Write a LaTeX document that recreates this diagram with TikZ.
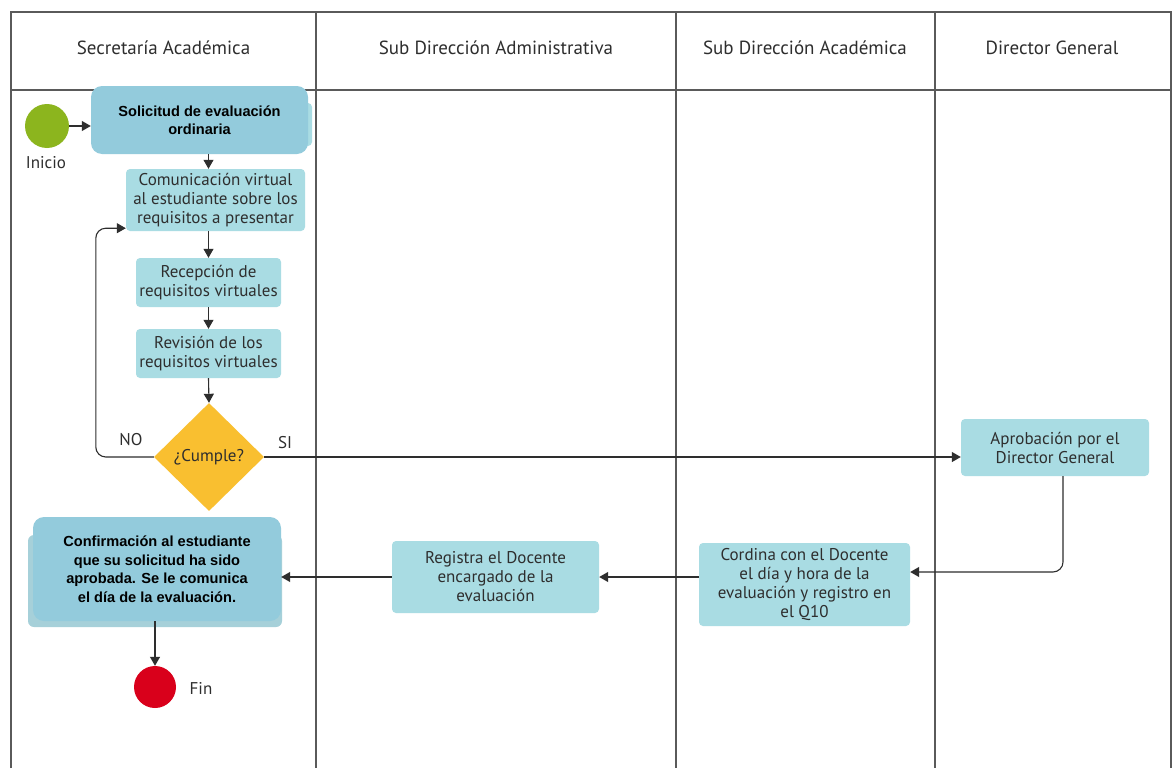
\documentclass[tikz,border=0pt]{standalone}
\usepackage{fontspec}
\setmainfont{PT Sans}
\newfontfamily\arialfont{Liberation Sans}
\usetikzlibrary{positioning,shapes.geometric,arrows.meta,calc}
\definecolor{laneGray}{HTML}{5A5A5A}
\definecolor{boxCyan}{HTML}{A9DCE3}
\definecolor{boxBlue}{HTML}{93CBDC}
\definecolor{ghostBlue}{HTML}{A6D0D9}
\definecolor{startGreen}{HTML}{8CB51E}
\definecolor{endRed}{HTML}{D9001B}
\definecolor{askYellow}{HTML}{F9BF30}
\definecolor{inkGray}{HTML}{2E2E2E}

\begin{document}
\begin{tikzpicture}[x=1pt,y=-1pt,
    lane/.style={draw=laneGray,line width=1.2pt},
    lanetitle/.style={text=inkGray,font=\fontsize{19}{22}\selectfont},
    task/.style={fill=boxCyan,rounded corners=4pt,align=center,text=inkGray,
      inner sep=0pt,font=\fontsize{17}{19}\selectfont},
    bigtask/.style={fill=boxBlue,rounded corners=11pt,align=center,text=black,
      inner sep=0pt,font=\arialfont\bfseries\fontsize{14.6}{18.5}\selectfont},
    event/.style={circle,inner sep=0pt},
    tag/.style={text=inkGray,font=\fontsize{17}{19}\selectfont},
    flow/.style={draw=inkGray,line width=1.1pt,-{Triangle[length=9pt,width=10pt]}}]

        \useasboundingbox (0,0) rectangle (1174,768);
        \fill[white] (0,0) rectangle (1174,768);

        \def\laneA{11}
        \def\laneB{316}
        \def\laneC{676}
        \def\laneD{935}
        \def\laneE{1171}

        % Lanes
        \draw[lane] (\laneA,768) -- (\laneA,12) -- (\laneE,12) -- (\laneE,768);
        \draw[lane] (\laneA,90) -- (\laneE,90);
        \foreach \lx in {\laneB,\laneC,\laneD}
          \draw[lane] (\lx,12) -- (\lx,768);

        \node[lanetitle] (secretaria) at (163.5,48) {Secretaría Académica};
        \node[lanetitle] (subadmin) at (496,48) {Sub Dirección Administrativa};
        \node[lanetitle] (subacad) at (805,48) {Sub Dirección Académica};
        \node[lanetitle] (director) at (1052,48) {Director General};

        % Secretaria Academica
        \fill[boxCyan,rounded corners=4pt] (120,103) rectangle (312,146);
        \node[event,fill=startGreen,minimum size=44pt] (inicio) at (47,126) {};
        \node[tag] (inicioTag) at (46,163) {Inicio};
        \node[bigtask,minimum width=217pt,minimum height=68pt] (solicitud) at (199.5,120)
          {Solicitud de evaluación\\ordinaria};
        \node[task,minimum width=179pt,minimum height=62pt] (comunica) at (215.5,200)
          {Comunicación virtual\\al estudiante sobre los\\requisitos a presentar};
        \node[task,minimum width=145pt,minimum height=49pt] (recepcion) at (208.5,282.5)
          {Recepción de\\requisitos virtuales};
        \node[task,minimum width=145pt,minimum height=49pt] (revision) at (208.5,353.5)
          {Revisión de los\\requisitos virtuales};
        \node[diamond,fill=askYellow,inner sep=0pt,minimum width=110pt,minimum height=108pt,
          text=inkGray,font=\fontsize{17}{19}\selectfont] (cumple) at (209,457) {¿Cumple?};
        \node[tag] (noTag) at (131,440) {NO};
        \node[tag] (siTag) at (285,443) {SI};

        \fill[ghostBlue,rounded corners=6pt] (28,535) rectangle (282,627);
        \node[bigtask,minimum width=248pt,minimum height=104pt] (confirma) at (157,569)
          {Confirmación al estudiante\\que su solicitud ha sido\\aprobada. Se le comunica\\el día de la evaluación.};
        \node[event,fill=endRed,minimum size=42pt] (fin) at (155,687) {};
        \node[tag] (finTag) at (201,688) {Fin};

        % Sub Direccion Administrativa
        \node[task,minimum width=207pt,minimum height=72pt] (registra) at (495.5,577)
          {Registra el Docente\\encargado de la\\evaluación};

        % Sub Direccion Academica
        \node[task,minimum width=211pt,minimum height=83pt] (cordina) at (804.5,584.5)
          {Cordina con el Docente\\el día y hora de la\\evaluación y registro en\\el Q10};

        % Director General
        \node[task,minimum width=188pt,minimum height=57pt] (aprobacion) at (1055,447.5)
          {Aprobación por el\\Director General};

        % Flows
        \draw[flow] (inicio) -- (inicio -| solicitud.west);
        \draw[flow] (recepcion.north |- solicitud.south) -- (recepcion.north |- comunica.north);
        \draw[flow] (recepcion.north |- comunica.south) -- (recepcion.north);
        \draw[flow] (recepcion.south) -- (revision.north);
        \draw[flow] (revision.south) -- (cumple.north);
        \draw[flow,rounded corners=10pt] (cumple.west) -- ++(-58,0) |- ([yshift=3pt]comunica.south west);
        \draw[flow] (cumple.east) -- (cumple.east -| aprobacion.west);
        \draw[flow,rounded corners=10pt] ([xshift=8pt]aprobacion.south) |- ([yshift=12.5pt]cordina.east);
        \draw[flow] (cordina.west |- registra.west) -- (registra.east);
        \draw[flow] (registra.west) -- (registra.west -| confirma.east);
        \draw[flow] (fin.north |- confirma.south) -- ++(0,5) -- (fin.north);
\end{tikzpicture}
\end{document}
